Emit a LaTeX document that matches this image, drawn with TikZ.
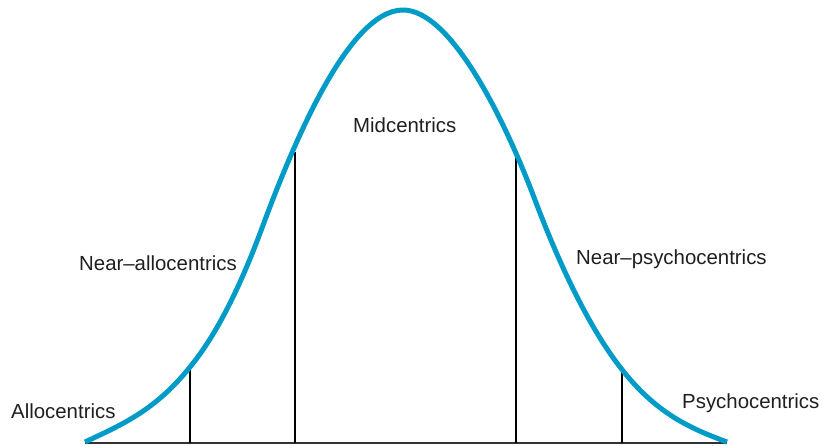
\documentclass[tikz,border=0pt]{standalone}
\usepackage{fontspec}
\setmainfont{Liberation Sans}
\definecolor{curveblue}{RGB}{0,155,198}
\definecolor{baseg}{RGB}{50,50,50}
\begin{document}
\begin{tikzpicture}[x=1pt,y=-1pt,
  lbl/.style={anchor=base west,inner sep=0pt,font=\fontsize{20.4}{23}\selectfont,text=black!88},
  bell/.style={draw=curveblue,line width=5pt,line cap=butt,line join=round},
  divider/.style={draw=black,line width=1.4pt},
  axisline/.style={draw=baseg,line width=2pt}]
\useasboundingbox (0,0) rectangle (822,446);
% baseline
\coordinate (bl) at (85,443);
\coordinate (br) at (727,443);
\draw[axisline] (bl) -- (br);
% dividers
\coordinate (d1b) at (190,443); \coordinate (d1t) at (190,368);
\coordinate (d2b) at (295,443); \coordinate (d2t) at (295,152);
\coordinate (d3b) at (516,443); \coordinate (d3t) at (516,150);
\coordinate (d4b) at (622,443); \coordinate (d4t) at (622,370);
\draw[divider] (d1b) -- (d1t);
\draw[divider] (d2b) -- (d2t);
\draw[divider] (d3b) -- (d3t);
\draw[divider] (d4b) -- (d4t);
% bell curve
\coordinate (c0) at (85,442);
\coordinate (c1) at (190,367);
\coordinate (c2) at (262,228);
\coordinate (top) at (403,10);
\coordinate (c3) at (535,200);
\coordinate (c4) at (620,367);
\coordinate (c5) at (727,442);
\draw[bell] (c0) .. controls (120,425.5) and (155,411) .. (c1)
  .. controls (214,338) and (238,293) .. (c2)
  .. controls (292,147) and (348,10) .. (top)
  .. controls (450,10) and (503,115) .. (c3)
  .. controls (563,274) and (592,331) .. (c4)
  .. controls (656,414) and (691,428.6) .. (c5);
% labels
\node[lbl] (mid) at (353,133) {Midcentrics};
\node[lbl] (nallo) at (79,271) {Near–allocentrics};
\node[lbl] (npsy) at (576,265) {Near–psychocentrics};
\node[lbl] (allo) at (11,418) {Allocentrics};
\node[lbl] (psy) at (682,408) {Psychocentrics};
\end{tikzpicture}
\end{document}
